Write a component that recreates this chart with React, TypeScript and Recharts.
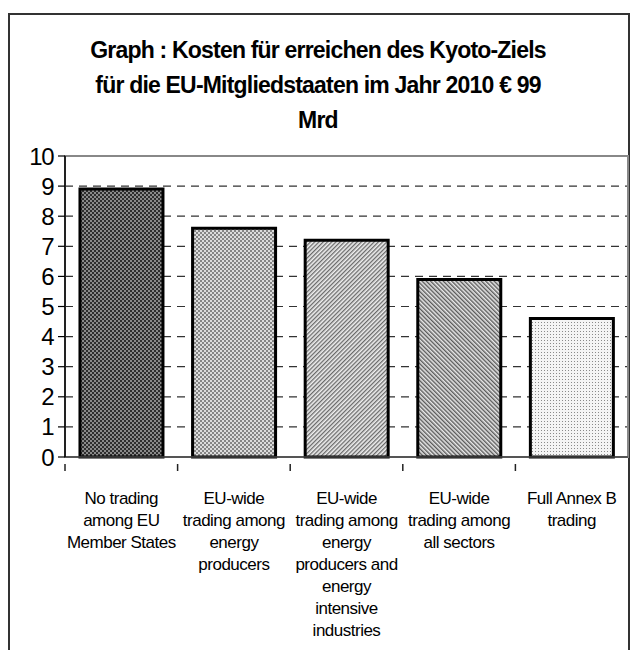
import { BarChart, Bar, XAxis, YAxis, CartesianGrid, ReferenceArea, Cell } from "recharts";

const categories = [
  "No trading\namong EU\nMember States",
  "EU-wide\ntrading among\nenergy\nproducers",
  "EU-wide\ntrading among\nenergy\nproducers and\nenergy\nintensive\nindustries",
  "EU-wide\ntrading among\nall sectors",
  "Full Annex B\ntrading",
];
const costs = [8.9, 7.6, 7.2, 5.9, 4.6];
const yTicks = [0, 1, 2, 3, 4, 5, 6, 7, 8, 9, 10];
const patternIds = ["p1", "p2", "p3", "p4", "p5"];

const data = categories.map((name, i) => ({ name, value: costs[i] }));

const CategoryTick = (props: any) => {
  const { x, y, payload } = props;
  const band = 563 / 5;
  const lines = String(payload.value).split("\n");
  const left = x - band / 2;
  return (
    <g>
      <line x1={left} y1={y - 1} x2={left} y2={y + 6} stroke="#222" strokeWidth={1.5} />
      <text
        x={x}
        y={y}
        textAnchor="middle"
        fontFamily="'Liberation Sans', Arial, sans-serif"
        fontSize={17}
        letterSpacing={-0.5}
        fill="#000"
      >
        {lines.map((l, i) => (
          <tspan key={i} x={x} dy={i === 0 ? 39 : 22}>
            {l}
          </tspan>
        ))}
      </text>
    </g>
  );
};

export default function App() {
  return (
    <div style={{ position: "absolute", left: 0, top: 0, width: 630, height: 650, overflow: "hidden", background: "#fff" }}>
      <div
        style={{
          position: "absolute",
          left: 8,
          top: 13,
          width: 618,
          height: 700,
          borderLeft: "2px solid #333",
          borderTop: "2px solid #333",
          borderRight: "2px solid #333",
        }}
      />
      <div
        style={{
          position: "absolute",
          left: 8,
          top: 33,
          width: 620,
          textAlign: "center",
          fontFamily: "'Liberation Sans', Arial, sans-serif",
          fontWeight: "bold",
          fontSize: 23,
          lineHeight: "35px",
          letterSpacing: -0.8,
          color: "#000",
        }}
      >
        Graph : Kosten für erreichen des Kyoto-Ziels
        <br />
        für die EU-Mitgliedstaaten im Jahr 2010 € 99
        <br />
        Mrd
      </div>
      <div style={{ position: "absolute", left: 0, top: 0 }}>
        <BarChart
          width={630}
          height={650}
          data={data}
          margin={{ top: 156, right: 2, bottom: 0, left: 0 }}
          barCategoryGap="13.3%"
        >
          <defs>
            <pattern id="p1" width="4" height="4" patternUnits="userSpaceOnUse">
              <rect width="4" height="4" fill="#8a8a8a" />
              <rect x="0" y="0" width="2" height="2" fill="#2e2e2e" />
              <rect x="2" y="2" width="2" height="2" fill="#2e2e2e" />
            </pattern>
            <pattern id="p2" width="4" height="4" patternUnits="userSpaceOnUse">
              <rect width="4" height="4" fill="#dcdcdc" />
              <rect x="0" y="0" width="2" height="2" fill="#858585" />
              <rect x="2" y="2" width="2" height="2" fill="#858585" />
            </pattern>
            <pattern id="p3" width="3" height="3" patternUnits="userSpaceOnUse" patternTransform="rotate(45)">
              <rect width="3" height="3" fill="#eeeeee" />
              <rect width="1.3" height="3" fill="#6a6a6a" />
            </pattern>
            <pattern id="p4" width="3" height="3" patternUnits="userSpaceOnUse" patternTransform="rotate(-45)">
              <rect width="3" height="3" fill="#e8e8e8" />
              <rect width="1.4" height="3" fill="#5a5a5a" />
            </pattern>
            <pattern id="p5" width="3" height="3" patternUnits="userSpaceOnUse">
              <rect width="3" height="3" fill="#f4f4f4" />
              <rect x="1" y="1" width="1" height="1" fill="#8a8a8a" />
            </pattern>
          </defs>
          <CartesianGrid vertical={false} stroke="#333" strokeDasharray="8 6" strokeWidth={1.2} />
          <ReferenceArea y1={0} y2={10} fill="none" stroke="#888" strokeWidth={2} ifOverflow="visible" />
          <XAxis
            dataKey="name"
            height={193}
            interval={0}
            axisLine={{ stroke: "#444", strokeWidth: 1.5 }}
            tickLine={false}
            tick={<CategoryTick />}
          />
          <YAxis
            width={65}
            domain={[0, 10]}
            ticks={yTicks}
            interval={0}
            axisLine={{ stroke: "#000", strokeWidth: 1.5 }}
            tickLine={{ stroke: "#000", strokeWidth: 1.2 }}
            tickSize={7}
            tickMargin={5}
            tick={{ fill: "#000", fontSize: 24, fontFamily: "'Liberation Sans', Arial, sans-serif", letterSpacing: -1.5 }}
          />
          <Bar dataKey="value" stroke="#000" strokeWidth={3} isAnimationActive={false}>
            {data.map((d, i) => (
              <Cell key={d.name} fill={`url(#${patternIds[i]})`} />
            ))}
          </Bar>
        </BarChart>
      </div>
    </div>
  );
}
